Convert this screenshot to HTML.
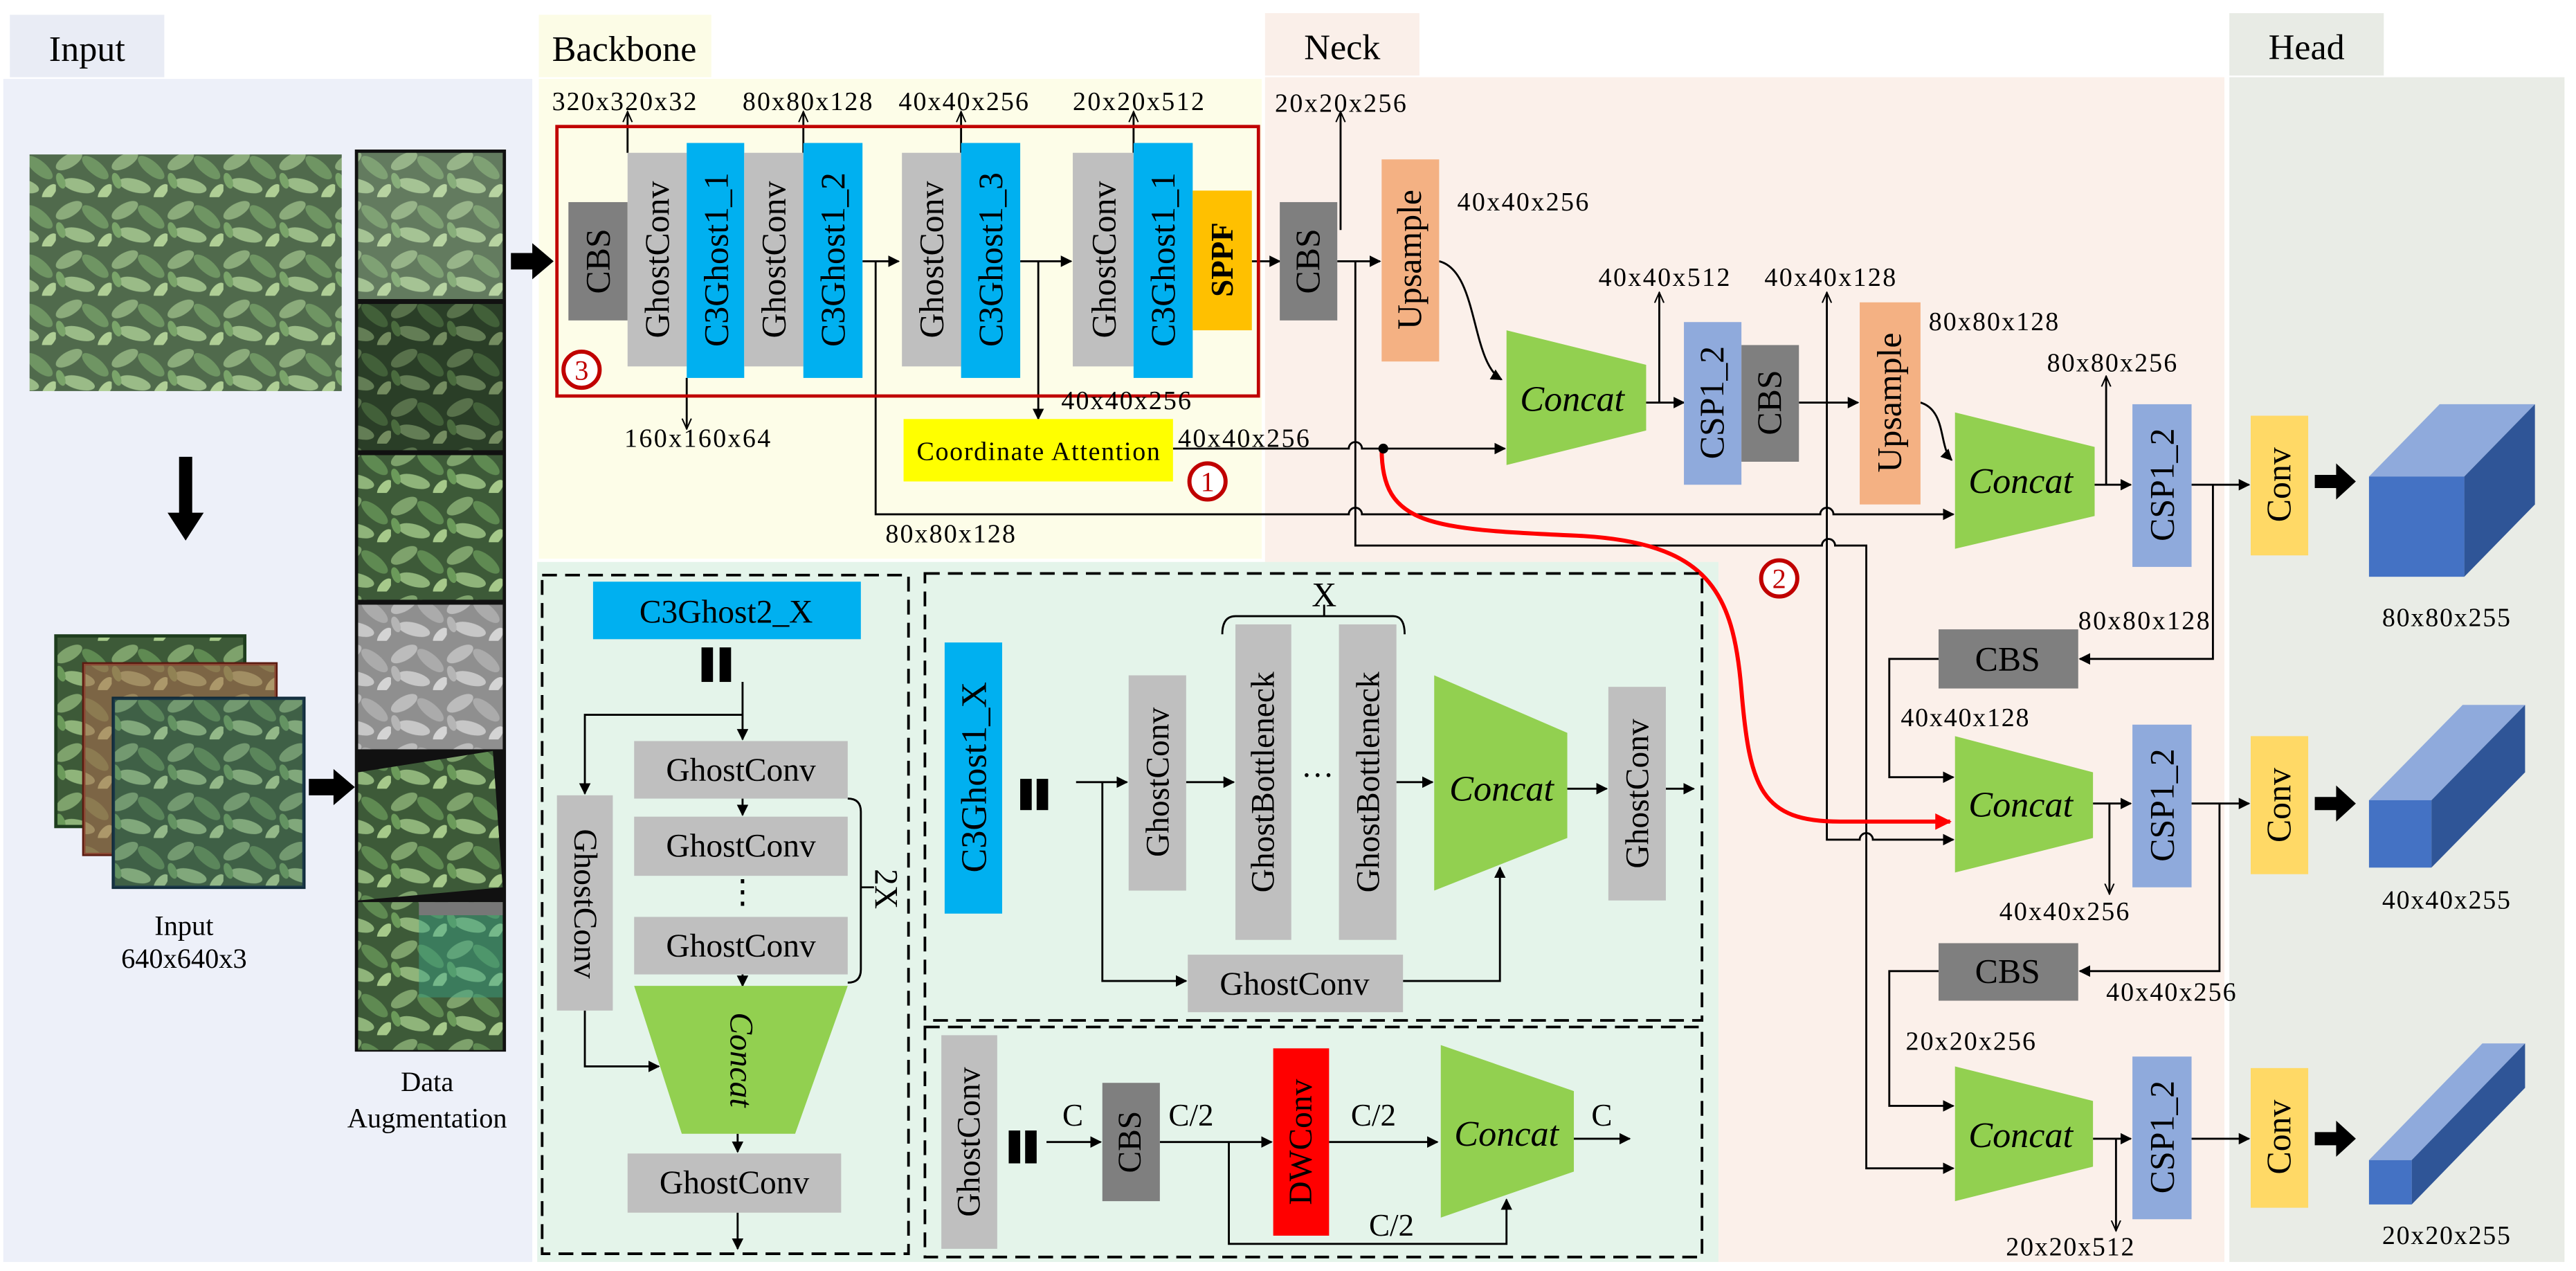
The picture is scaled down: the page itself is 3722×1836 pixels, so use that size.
<!DOCTYPE html>
<html><head><meta charset="utf-8"><style>
html,body{margin:0;padding:0;background:#fff}
svg{display:block}
svg text{font-family:"Liberation Serif","Times New Roman",serif;fill:#000}
</style></head><body>
<svg width="3722" height="1836" viewBox="0 0 1568 773.5" preserveAspectRatio="none" xmlns="http://www.w3.org/2000/svg" font-family="Liberation Serif, serif">
<defs>
<marker id="a" viewBox="0 0 10 10" refX="9" refY="5" markerWidth="7" markerHeight="7" markerUnits="userSpaceOnUse" orient="auto"><path d="M0,0L10,5L0,10z" fill="#000"/></marker>
<marker id="o" viewBox="0 0 10 10" refX="9" refY="5" markerWidth="7" markerHeight="7" markerUnits="userSpaceOnUse" orient="auto"><path d="M0,1L9,5L0,9" fill="none" stroke="#000" stroke-width="1.2"/></marker>
<marker id="r" viewBox="0 0 10 10" refX="9" refY="5" markerWidth="10" markerHeight="10" markerUnits="userSpaceOnUse" orient="auto"><path d="M0,0L10,5L0,10z" fill="#f00"/></marker>
<pattern id="lf" width="34" height="30" patternUnits="userSpaceOnUse">
<rect width="34" height="30" fill="#3d5a38"/>
<ellipse cx="8" cy="8" rx="9" ry="4" transform="rotate(-30 8 8)" fill="#7ea26c"/>
<ellipse cx="24" cy="12" rx="10" ry="4" transform="rotate(40 24 12)" fill="#5f8a52"/>
<ellipse cx="14" cy="23" rx="10" ry="4" transform="rotate(15 14 23)" fill="#8fb47a"/>
<ellipse cx="30" cy="27" rx="6" ry="3" transform="rotate(-50 30 27)" fill="#a6c98a"/>
<ellipse cx="3" cy="20" rx="5" ry="2.5" transform="rotate(70 3 20)" fill="#6b9a5a"/>
</pattern>
<filter id="gs"><feColorMatrix type="saturate" values="0"/></filter>
</defs>

<!-- panels -->
<rect x="6" y="9" width="94" height="38" fill="#e9ecf5"/>
<rect x="2" y="48" width="322" height="720" fill="#edf0f9"/>
<rect x="328" y="9" width="105" height="38" fill="#fcfce6"/>
<rect x="328" y="48" width="440" height="292" fill="#fdfde8"/>
<rect x="770" y="8" width="94" height="38" fill="#faefe9"/>
<rect x="770" y="47" width="584" height="721" fill="#fbf0ea"/>
<rect x="1357" y="8" width="94" height="38" fill="#e8ebe5"/>
<rect x="1357" y="47" width="204" height="721" fill="#e9ece6"/>
<rect x="327" y="342" width="719" height="426" fill="#e4f4ea"/>
<text x="53" y="37" font-size="22" text-anchor="middle">Input</text>
<text x="380" y="37" font-size="22" text-anchor="middle">Backbone</text>
<text x="817" y="36" font-size="22" text-anchor="middle">Neck</text>
<text x="1404" y="36" font-size="22" text-anchor="middle">Head</text>

<!-- input images -->
<rect x="18" y="94" width="190" height="144" fill="url(#lf)"/>
<rect x="18" y="94" width="190" height="144" fill="#fff" opacity="0.1"/>
<path d="M109,278H117V312H124L113,329L102,312H109Z" fill="#000"/>
<rect x="34" y="387" width="115" height="116" fill="url(#lf)" stroke="#1e3d1e" stroke-width="2"/>
<rect x="51" y="404" width="117" height="116" fill="url(#lf)" stroke="#5a1a10" stroke-width="2"/>
<rect x="51" y="404" width="117" height="116" fill="#b07050" opacity="0.55"/>
<rect x="69" y="425" width="116" height="115" fill="url(#lf)" stroke="#0f2a3a" stroke-width="2"/>
<rect x="69" y="425" width="116" height="115" fill="#4a7a80" opacity="0.2"/>
<text x="112" y="569" font-size="17" text-anchor="middle">Input</text>
<text x="112" y="589" font-size="17" text-anchor="middle">640x640x3</text>
<path d="M188,474H203V468L216,479L203,490V484H188Z" fill="#000"/>
<rect x="216" y="91" width="92" height="549" fill="#111"/>
<rect x="218" y="93" width="88" height="89" fill="url(#lf)"/>
<rect x="218" y="93" width="88" height="89" fill="#fff" opacity="0.2"/>
<rect x="218" y="185" width="88" height="89" fill="url(#lf)"/>
<rect x="218" y="185" width="88" height="89" fill="#000" opacity="0.3"/>
<rect x="218" y="277" width="88" height="88" fill="url(#lf)"/>
<rect x="218" y="368" width="88" height="88" fill="url(#lf)" filter="url(#gs)"/>
<rect x="218" y="368" width="88" height="88" fill="#fff" opacity="0.35"/>
<polygon points="218,470 300,457 306,540 218,548" fill="url(#lf)"/>
<rect x="218" y="549" width="88" height="90" fill="url(#lf)"/>
<rect x="255" y="549" width="51" height="8" fill="#777"/>
<rect x="255" y="557" width="51" height="50" fill="#3aa58a" opacity="0.45"/>
<text x="260" y="664" font-size="17" text-anchor="middle">Data</text>
<text x="260" y="686" font-size="17" text-anchor="middle">Augmentation</text>
<path d="M311,154H324V148L337,159L324,170V164H311Z" fill="#000"/>

<!-- backbone -->
<g stroke="#000" stroke-width="1.2" fill="none">
<path d="M382,93V68" marker-end="url(#o)"/>
<path d="M489,93V68" marker-end="url(#o)"/>
<path d="M585,93V68" marker-end="url(#o)"/>
<path d="M690,93V68" marker-end="url(#o)"/>
<path d="M418,230V261" marker-end="url(#o)"/>
<path d="M525,159H547" marker-end="url(#a)"/>
<path d="M621,159H652" marker-end="url(#a)"/>
<path d="M632,159V255" marker-end="url(#a)"/>
<path d="M533,159V313H821a4,4 0 0 1 8,0H1108a4,4 0 0 1 8,0H1189" marker-end="url(#a)"/>
<path d="M762,159H779" marker-end="url(#a)"/>
<path d="M714,273H821a4,4 0 0 1 8,0H916" marker-end="url(#a)"/>
</g>
<rect x="339" y="77" width="427" height="164" fill="none" stroke="#c00000" stroke-width="2"/>
<rect x="346" y="123" width="36" height="72" fill="#7f7f7f"/>
<rect x="382" y="93" width="36" height="130" fill="#bfbfbf"/>
<rect x="418" y="87" width="35" height="143" fill="#00b0f0"/>
<rect x="453" y="93" width="36" height="130" fill="#bfbfbf"/>
<rect x="489" y="87" width="36" height="143" fill="#00b0f0"/>
<rect x="549" y="93" width="36" height="130" fill="#bfbfbf"/>
<rect x="585" y="87" width="36" height="143" fill="#00b0f0"/>
<rect x="653" y="93" width="37" height="130" fill="#bfbfbf"/>
<rect x="690" y="87" width="36" height="143" fill="#00b0f0"/>
<rect x="726" y="116" width="36" height="85" fill="#ffc000"/>
<g font-size="21" text-anchor="middle" dominant-baseline="central">
<text transform="translate(364,159) rotate(-90)">CBS</text>
<text transform="translate(400,158) rotate(-90)">GhostConv</text>
<text transform="translate(436,158) rotate(-90)">C3Ghost1_1</text>
<text transform="translate(471,158) rotate(-90)">GhostConv</text>
<text transform="translate(507,158) rotate(-90)">C3Ghost1_2</text>
<text transform="translate(567,158) rotate(-90)">GhostConv</text>
<text transform="translate(603,158) rotate(-90)">C3Ghost1_3</text>
<text transform="translate(672,158) rotate(-90)">GhostConv</text>
<text transform="translate(708,158) rotate(-90)">C3Ghost1_1</text>
<text transform="translate(744,158) rotate(-90)" font-weight="bold" font-size="19">SPPF</text>
</g>
<g font-size="16">
<text x="336" y="67" textLength="88">320x320x32</text>
<text x="452" y="67" textLength="79">80x80x128</text>
<text x="547" y="67" textLength="79">40x40x256</text>
<text x="653" y="67" textLength="80">20x20x512</text>
<text x="380" y="272" textLength="89">160x160x64</text>
<text x="646" y="249" textLength="79">40x40x256</text>
<text x="717" y="272" textLength="80">40x40x256</text>
<text x="539" y="330" textLength="79">80x80x128</text>
</g>
<circle cx="354" cy="225" r="11" fill="#fff" stroke="#c00000" stroke-width="2.5"/>
<text x="354" y="231" font-size="17" text-anchor="middle" style="fill:#c00000">3</text>
<rect x="550" y="255" width="164" height="38" fill="#ffff00"/>
<text x="632" y="280" font-size="16" text-anchor="middle" textLength="148">Coordinate Attention</text>
<circle cx="735" cy="293" r="11" fill="#fff" stroke="#c00000" stroke-width="2.5"/>
<text x="735" y="299" font-size="17" text-anchor="middle" style="fill:#c00000">1</text>

<!-- neck -->
<g stroke="#000" stroke-width="1.2" fill="none">
<path d="M816,140V68" marker-end="url(#o)"/>
<path d="M814,159H840" marker-end="url(#a)"/>
<path d="M825,159V332H1109a4,4 0 0 1 8,0H1136V711H1189" marker-end="url(#a)"/>
<path d="M876,159C900,165 895,220 914,231" marker-end="url(#a)"/>
<path d="M1002,245H1025" marker-end="url(#a)"/>
<path d="M1010,245V178" marker-end="url(#o)"/>
<path d="M1095,245H1131" marker-end="url(#a)"/>
<path d="M1112,245V178" marker-end="url(#o)"/>
<path d="M1112,245V511H1132a4,4 0 0 1 8,0H1189" marker-end="url(#a)"/>
<path d="M1169,245C1185,250 1180,272 1188,280" marker-end="url(#a)"/>
<path d="M1275,295H1297" marker-end="url(#a)"/>
<path d="M1282,295V229" marker-end="url(#o)"/>
<path d="M1334,295H1369" marker-end="url(#a)"/>
<path d="M1347,295V401H1266" marker-end="url(#a)"/>
<path d="M1180,401H1150V473H1189" marker-end="url(#a)"/>
<path d="M1274,489H1297" marker-end="url(#a)"/>
<path d="M1284,489V544" marker-end="url(#o)"/>
<path d="M1334,489H1369" marker-end="url(#a)"/>
<path d="M1351,489V591H1266" marker-end="url(#a)"/>
<path d="M1180,591H1150V673H1189" marker-end="url(#a)"/>
<path d="M1274,693H1297" marker-end="url(#a)"/>
<path d="M1288,693V749" marker-end="url(#o)"/>
<path d="M1334,693H1369" marker-end="url(#a)"/>
</g>
<path d="M841,273C841,320 870,322 960,326C1040,330 1055,360 1060,420C1065,480 1072,500 1120,500L1187,500" fill="none" stroke="#f00" stroke-width="2.5" marker-end="url(#r)"/>
<circle cx="842" cy="273" r="3" fill="#000"/>
<circle cx="1083" cy="352" r="11" fill="#fff" stroke="#c00000" stroke-width="2.5"/>
<text x="1083" y="358" font-size="17" text-anchor="middle" style="fill:#c00000">2</text>

<rect x="779" y="123" width="35" height="72" fill="#7f7f7f"/>
<rect x="841" y="97" width="35" height="123" fill="#f4b183"/>
<polygon points="917,201 1002,222 1002,262 917,283" fill="#92d050"/>
<rect x="1025" y="196" width="35" height="99" fill="#8faadc"/>
<rect x="1060" y="210" width="35" height="71" fill="#7f7f7f"/>
<rect x="1132" y="184" width="37" height="123" fill="#f4b183"/>
<polygon points="1190,251 1275,272 1275,314 1190,334" fill="#92d050"/>
<rect x="1298" y="246" width="36" height="99" fill="#8faadc"/>
<rect x="1370" y="253" width="35" height="85" fill="#ffd966"/>
<rect x="1180" y="383" width="85" height="36" fill="#7f7f7f"/>
<polygon points="1190,448 1274,470 1274,510 1190,531" fill="#92d050"/>
<rect x="1298" y="441" width="36" height="99" fill="#8faadc"/>
<rect x="1370" y="448" width="35" height="84" fill="#ffd966"/>
<rect x="1180" y="574" width="85" height="35" fill="#7f7f7f"/>
<polygon points="1190,649 1274,670 1274,710 1190,731" fill="#92d050"/>
<rect x="1298" y="643" width="36" height="99" fill="#8faadc"/>
<rect x="1370" y="650" width="35" height="85" fill="#ffd966"/>
<g font-size="21" text-anchor="middle" dominant-baseline="central">
<text transform="translate(796,159) rotate(-90)">CBS</text>
<text transform="translate(858,158) rotate(-90)">Upsample</text>
<text transform="translate(1042,245) rotate(-90)">CSP1_2</text>
<text transform="translate(1077,245) rotate(-90)">CBS</text>
<text transform="translate(1150,245) rotate(-90)">Upsample</text>
<text transform="translate(1316,295) rotate(-90)">CSP1_2</text>
<text transform="translate(1387,295) rotate(-90)">Conv</text>
<text transform="translate(1316,490) rotate(-90)">CSP1_2</text>
<text transform="translate(1387,490) rotate(-90)">Conv</text>
<text transform="translate(1316,692) rotate(-90)">CSP1_2</text>
<text transform="translate(1387,692) rotate(-90)">Conv</text>
<text x="1222" y="401">CBS</text>
<text x="1222" y="591">CBS</text>
</g>
<g font-size="22" font-style="italic" text-anchor="middle">
<text x="957" y="250">Concat</text>
<text x="1230" y="300">Concat</text>
<text x="1230" y="497">Concat</text>
<text x="1230" y="698">Concat</text>
</g>
<g font-size="16">
<text x="776" y="68" textLength="80">20x20x256</text>
<text x="887" y="128" textLength="80">40x40x256</text>
<text x="973" y="174" textLength="80">40x40x512</text>
<text x="1074" y="174" textLength="80">40x40x128</text>
<text x="1174" y="201" textLength="79">80x80x128</text>
<text x="1246" y="226" textLength="79">80x80x256</text>
<text x="1265" y="383" textLength="80">80x80x128</text>
<text x="1157" y="442" textLength="78">40x40x128</text>
<text x="1217" y="560" textLength="79">40x40x256</text>
<text x="1282" y="609" textLength="79">40x40x256</text>
<text x="1160" y="639" textLength="79">20x20x256</text>
<text x="1221" y="764" textLength="78">20x20x512</text>
<text x="1450" y="381" textLength="78">80x80x255</text>
<text x="1450" y="553" textLength="78">40x40x255</text>
<text x="1450" y="757" textLength="78">20x20x255</text>
</g>

<!-- head -->
<path d="M1409,289H1422V282L1434,293L1422,304V297H1409Z" fill="#000"/>
<path d="M1409,485H1422V478L1434,489L1422,500V493H1409Z" fill="#000"/>
<path d="M1409,689H1422V682L1434,693L1422,704V697H1409Z" fill="#000"/>
<polygon points="1442,290 1485,246 1543,246 1500,290" fill="#8faadc"/>
<polygon points="1500,290 1543,246 1543,307 1500,351" fill="#2f5597"/>
<rect x="1442" y="290" width="58" height="61" fill="#4472c4"/>
<polygon points="1442,487 1499,429 1537,429 1480,487" fill="#8faadc"/>
<polygon points="1480,487 1537,429 1537,470 1480,528" fill="#2f5597"/>
<rect x="1442" y="487" width="38" height="41" fill="#4472c4"/>
<polygon points="1442,706 1511,635 1537,635 1468,706" fill="#8faadc"/>
<polygon points="1468,706 1537,635 1537,662 1468,733" fill="#2f5597"/>
<rect x="1442" y="706" width="26" height="27" fill="#4472c4"/>

<!-- lower boxes -->
<g fill="none" stroke="#000" stroke-width="1.6" stroke-dasharray="9,5">
<rect x="330" y="350" width="223" height="413"/>
<rect x="563" y="349" width="473" height="272"/>
<rect x="563" y="625" width="473" height="140"/>
</g>
<!-- box1 -->
<g stroke="#000" stroke-width="1.2" fill="none">
<path d="M452,415V450" marker-end="url(#a)"/>
<path d="M452,435H356V483" marker-end="url(#a)"/>
<path d="M452,486V496" marker-end="url(#a)"/>
<path d="M452,593V600" marker-end="url(#a)"/>
<path d="M356,615V649H401" marker-end="url(#a)"/>
<path d="M449,690V701" marker-end="url(#a)"/>
<path d="M449,738V760" marker-end="url(#a)"/>
<path d="M516,486Q524,486 524,494V590Q524,598 516,598"/>
<path d="M524,540H532"/>
</g>
<rect x="361" y="354" width="163" height="35" fill="#00b0f0"/>
<text x="442" y="379" font-size="20" text-anchor="middle">C3Ghost2_X</text>
<rect x="427" y="394" width="7" height="21" fill="#000"/>
<rect x="438" y="394" width="7" height="21" fill="#000"/>
<rect x="386" y="451" width="130" height="35" fill="#bfbfbf"/>
<rect x="386" y="497" width="130" height="36" fill="#bfbfbf"/>
<rect x="386" y="558" width="130" height="35" fill="#bfbfbf"/>
<rect x="339" y="484" width="34" height="131" fill="#bfbfbf"/>
<polygon points="386,600 516,600 484,690 415,690" fill="#92d050"/>
<rect x="382" y="702" width="130" height="36" fill="#bfbfbf"/>
<g font-size="20" text-anchor="middle" dominant-baseline="central">
<text x="451" y="469">GhostConv</text>
<text x="451" y="515">GhostConv</text>
<text x="451" y="576">GhostConv</text>
<text x="447" y="720">GhostConv</text>
<text x="452" y="543">⋮</text>
<text transform="translate(356,550) rotate(90)">GhostConv</text>
<text transform="translate(451,645) rotate(90)" font-style="italic">Concat</text>
<text transform="translate(539,541) rotate(90)">2X</text>
</g>
<!-- box2 -->
<g stroke="#000" stroke-width="1.2" fill="none">
<path d="M655,476H686" marker-end="url(#a)"/>
<path d="M671,476V597H722" marker-end="url(#a)"/>
<path d="M722,476H751" marker-end="url(#a)"/>
<path d="M850,476H872" marker-end="url(#a)"/>
<path d="M954,480H978" marker-end="url(#a)"/>
<path d="M1014,480H1031" marker-end="url(#a)"/>
<path d="M854,597H913V528" marker-end="url(#a)"/>
<path d="M744,386Q744,375 752,375H848Q855,375 855,386"/>
<path d="M806,375V368"/>
</g>
<rect x="575" y="391" width="35" height="165" fill="#00b0f0"/>
<rect x="621" y="474" width="7" height="19" fill="#000"/>
<rect x="631" y="474" width="7" height="19" fill="#000"/>
<rect x="687" y="411" width="35" height="131" fill="#bfbfbf"/>
<rect x="752" y="380" width="34" height="192" fill="#bfbfbf"/>
<rect x="815" y="380" width="35" height="192" fill="#bfbfbf"/>
<polygon points="873,411 954,446 954,510 873,542" fill="#92d050"/>
<rect x="979" y="418" width="35" height="130" fill="#bfbfbf"/>
<rect x="723" y="581" width="131" height="35" fill="#bfbfbf"/>
<g font-size="20" text-anchor="middle" dominant-baseline="central">
<text transform="translate(593,473) rotate(-90)" font-size="22">C3Ghost1_X</text>
<text transform="translate(705,476) rotate(-90)">GhostConv</text>
<text transform="translate(769,476) rotate(-90)">GhostBottleneck</text>
<text transform="translate(833,476) rotate(-90)">GhostBottleneck</text>
<text transform="translate(997,483) rotate(-90)">GhostConv</text>
<text x="802" y="472">···</text>
<text x="788" y="599">GhostConv</text>
<text x="806" y="362" font-size="21">X</text>
<text x="914" y="480" font-size="22" font-style="italic">Concat</text>
</g>
<!-- box3 -->
<g stroke="#000" stroke-width="1.2" fill="none">
<path d="M637,695H670" marker-end="url(#a)"/>
<path d="M706,695H774" marker-end="url(#a)"/>
<path d="M748,695V757H917V730" marker-end="url(#a)"/>
<path d="M809,695H875" marker-end="url(#a)"/>
<path d="M958,693H992" marker-end="url(#a)"/>
</g>
<rect x="573" y="630" width="34" height="130" fill="#bfbfbf"/>
<rect x="614" y="688" width="7" height="20" fill="#000"/>
<rect x="624" y="688" width="7" height="20" fill="#000"/>
<rect x="671" y="659" width="35" height="72" fill="#7f7f7f"/>
<rect x="775" y="638" width="34" height="114" fill="#ff0000"/>
<polygon points="877,636 958,664 958,713 877,741" fill="#92d050"/>
<g font-size="20" text-anchor="middle" dominant-baseline="central">
<text transform="translate(590,695) rotate(-90)">GhostConv</text>
<text transform="translate(688,695) rotate(-90)">CBS</text>
<text transform="translate(792,695) rotate(-90)">DWConv</text>
<text x="917" y="690" font-size="22" font-style="italic">Concat</text>
</g>
<g font-size="19" text-anchor="middle">
<text x="653" y="685">C</text>
<text x="725" y="685">C/2</text>
<text x="836" y="685">C/2</text>
<text x="847" y="752">C/2</text>
<text x="975" y="685">C</text>
</g>
</svg>
</body></html>
